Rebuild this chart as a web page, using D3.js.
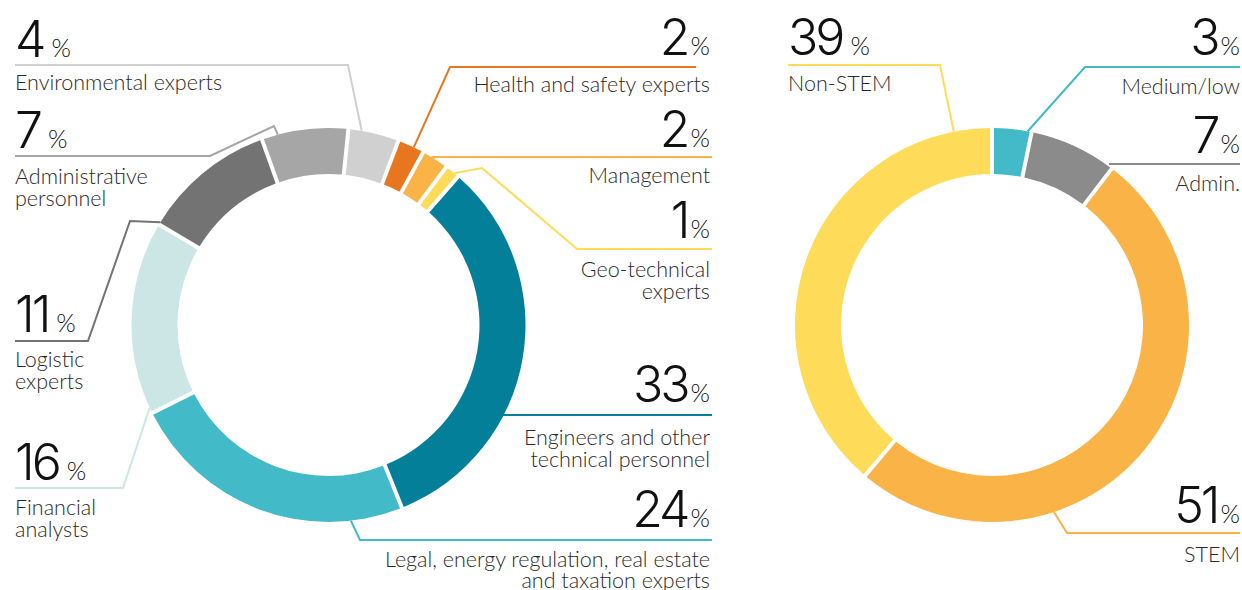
<!DOCTYPE html>
<html><head><meta charset="utf-8">
<script src="https://cdn.jsdelivr.net/npm/d3@7"></script>
<style>
html,body{margin:0;padding:0;background:#fff;}
svg{display:block;}
text{font-family:"Lato",sans-serif;}
.num{font-family:"Inter","Roboto",sans-serif;}
</style></head>
<body>
<svg id="c" width="1242" height="590"></svg>
<script>
// ---- data ----
const leftCategories = ["Environmental experts","Health and safety experts","Management","Geo-technical experts","Engineers and other technical personnel","Legal, energy regulation, real estate and taxation experts","Financial analysts","Logistic experts","Administrative personnel"];
const leftValues = [4, 2, 2, 1, 33, 24, 16, 11, 7];
const leftColors = ["#d0d0d0","#e8761f","#f9b347","#fedb58","#037f9a","#42bac7","#cce6e6","#737373","#a6a6a6"];

const rightCategories = ["Medium/low","Admin.","STEM","Non-STEM"];
const rightValues = [3, 7, 51, 39];
const rightColors = ["#42bac7","#8a8b8a","#f9b347","#fedb58"];

// ---- label layout (positions only) ----
const leftLayout = [
  {i:0, x:15,  anchor:"start", y:57,  lines:["Environmental experts"], ly:[90],  pts:[[15,65],[348,65]], f:0.26},
  {i:1, x:710, anchor:"end",   y:55,  lines:["Health and safety experts"], ly:[92], pts:[[696,67],[450,67]], f:0.61},
  {i:2, x:710, anchor:"end",   y:147, lines:["Management"], ly:[183], pts:[[712,157],[433,157]], f:0.47},
  {i:3, x:710, anchor:"end",   y:238, lines:["Geo-technical","experts"], ly:[277,299], pts:[[712,249],[577,249],[482,168]], f:0.67},
  {i:4, x:710, anchor:"end",   y:402, lines:["Engineers and other","technical personnel"], ly:[445,467], pts:[[712,415]], f:0.66, flat:true},
  {i:5, x:710, anchor:"end",   y:527, lines:["Legal, energy regulation, real estate","and taxation experts"], ly:[567,588], pts:[[712,540],[360,540]], f:0.18},
  {i:6, x:15,  anchor:"start", y:480, lines:["Financial","analysts"], ly:[515,537], pts:[[15,488],[123,488]], f:0.03},
  {i:7, x:15,  anchor:"start", y:332, lines:["Logistic","experts"], ly:[367,389], pts:[[15,341],[88,341],[130,221]], f:0.02},
  {i:8, x:15,  anchor:"start", y:148, lines:["Administrative","personnel"], ly:[184,206], pts:[[15,156],[210,156],[274,126]], f:0.19}
];
const rightLayout = [
  {i:0, x:1240, anchor:"end",   y:55,  lines:["Medium/low"], ly:[94],  pts:[[1240,67],[1085,67]], f:0.9},
  {i:1, x:1240, anchor:"end",   y:153, lines:["Admin."], ly:[191], pts:[[1240,164]], f:0.96, flat:true},
  {i:2, x:1240, anchor:"end",   y:523, lines:["STEM"], ly:[562], pts:[[1240,533],[1067,533]], f:0.68},
  {i:3, x:788,  anchor:"start", y:55,  lines:["Non-STEM"], ly:[91],  pts:[[788,65],[940,65]], f:0.92}
];

const svg = d3.select("#c");
const R = 197, r0 = 151;

function donut(values, colors, layout, cx, cy, start) {
  const pie = d3.pie().sort(null).value(d => d)
    .startAngle(start).endAngle(start + 2*Math.PI).padAngle(0.016);
  const arcs = pie(values);
  const arc = d3.arc().innerRadius(r0).outerRadius(R);
  const g = svg.append("g").attr("transform", `translate(${cx},${cy})`);
  g.selectAll("path").data(arcs).enter().append("path")
    .attr("d", arc).attr("fill", (d,i) => colors[i]);

  layout.forEach(L => {
    const s = arcs[L.i];
    const a = s.startAngle + L.f * (s.endAngle - s.startAngle);
    let ax = cx + R*Math.sin(a), ay = cy - R*Math.cos(a);
    const pts = L.pts.slice();
    if (L.flat) { pts.push([ax, pts[pts.length-1][1]]); }
    else pts.push([ax, ay]);
    svg.append("path")
      .attr("d", d3.line()(pts))
      .attr("fill","none").attr("stroke", colors[L.i]).attr("stroke-width", 2);

    const t = svg.append("text").attr("x", L.x).attr("y", L.y)
      .attr("text-anchor", L.anchor).attr("fill","#111");
    t.append("tspan").attr("class","num").attr("font-size", 50).attr("font-weight", 300)
      .attr("letter-spacing", -3).text(values[L.i]);
    t.append("tspan").attr("font-size", 25).attr("font-weight", 300)
      .attr("letter-spacing", 0)
      .attr("dx", L.anchor === "start" ? 8 : 3).text("%");

    L.lines.forEach((ln, k) => {
      svg.append("text").attr("x", L.x).attr("y", L.ly[k])
        .attr("text-anchor", L.anchor).attr("fill","#2a2a2a")
        .attr("font-size", 21.5).attr("font-weight", 300).text(ln);
    });
  });
}

donut(leftValues, leftColors, leftLayout, 328.5, 325, 5.8*Math.PI/180);
donut(rightValues, rightColors, rightLayout, 992, 325, 0);
</script>
</body></html>
